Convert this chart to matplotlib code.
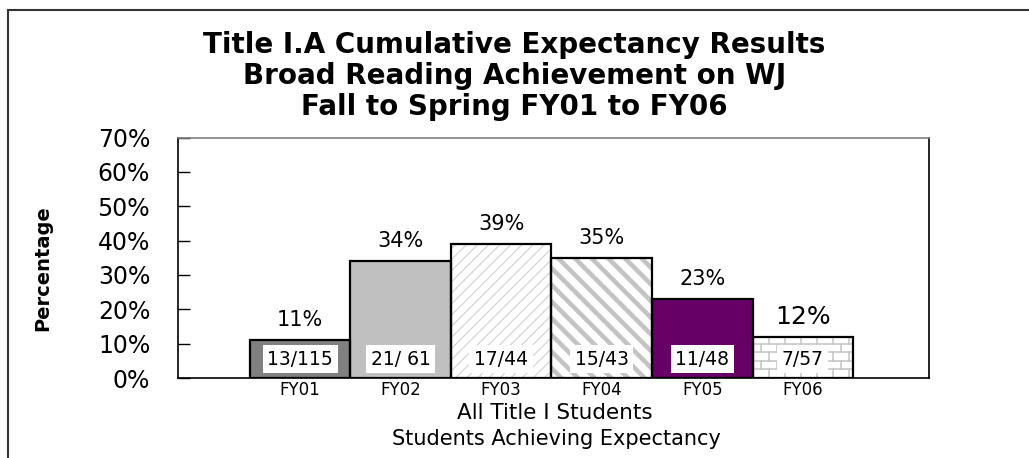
import matplotlib
matplotlib.use("Agg")
import matplotlib.pyplot as plt
from matplotlib.patches import Rectangle
import numpy as np

plt.rcParams['font.family'] = ['DejaVu Sans']

# ---- data ----
categories = ["FY01", "FY02", "FY03", "FY04", "FY05", "FY06"]
pct_values = [0.11, 0.34, 0.39, 0.35, 0.23, 0.12]
pct_labels = ["11%", "34%", "39%", "35%", "23%", "12%"]
count_labels = ["13/115", "21/ 61", "17/44", "15/43", "11/48", "7/57"]
yticks = [0.0, 0.1, 0.2, 0.3, 0.4, 0.5, 0.6, 0.7]
ytick_labels = ["0%", "10%", "20%", "30%", "40%", "50%", "60%", "70%"]
title_lines = ["Title I.A Cumulative Expectancy Results",
               "Broad Reading Achievement on WJ",
               "Fall to Spring FY01 to FY06"]

W, H = 1029, 458
fig = plt.figure(figsize=(W / 100, H / 100), dpi=100)
ax_l, ax_r, ax_t, ax_b = 178, 929, 137.5, 378
ax = fig.add_axes([ax_l / W, 1 - ax_b / H, (ax_r - ax_l) / W, (ax_b - ax_t) / H])
axw, axh = ax_r - ax_l, ax_b - ax_t

x = np.arange(len(categories))
bw = 1.0

styles = [
    dict(fc="#808080", hatch=None),
    dict(fc="#c0c0c0", hatch=None),
    dict(fc="white", hatch="///", hc="#d0d0d0", hlw=0.8),
    dict(fc="white", hatch="\\\\", hc="#c4c4c4", hlw=3.3),
    dict(fc="#660066", hatch=None),
    dict(fc="white", hatch="brick", hc="#c4c4c4"),
]

for xi, v, st in zip(x, pct_values, styles):
    if st["hatch"] in ("///", "\\\\"):
        with plt.rc_context({"hatch.linewidth": st["hlw"], "hatch.color": st["hc"]}):
            ax.bar(xi, v, width=bw, color=st["fc"], edgecolor=st["hc"],
                   hatch=st["hatch"], linewidth=0, zorder=2)
    else:
        ax.bar(xi, v, width=bw, color=st["fc"], linewidth=0, zorder=2)
    b = ax.bar(xi, v, width=bw, facecolor="none", edgecolor="black",
               linewidth=1.6, zorder=4)
    if st["hatch"] == "brick":
        rect = b[0]
        x0 = rect.get_x()
        step = 0.025
        brick_w = 0.16
        rows = np.arange(0, v + step, step)
        for i, ry in enumerate(rows):
            ln, = ax.plot([x0, x0 + bw], [ry, ry], color=st["hc"], lw=1.1, zorder=3)
            ln.set_clip_path(rect)
            off = 0 if i % 2 == 0 else brick_w / 2
            for bx in np.arange(x0 + off, x0 + bw, brick_w):
                vl, = ax.plot([bx, bx], [ry, ry + step], color=st["hc"], lw=1.1, zorder=3)
                vl.set_clip_path(rect)

# value labels above bars
for xi, v, lab in zip(x, pct_values, pct_labels):
    fs = 18 if lab == "12%" else 15
    ax.annotate(lab, (xi, v), xytext=(0, 14.5), textcoords="offset points",
                ha="center", va="center", fontsize=fs, zorder=6)

# count labels inside bars
for xi, lab in zip(x, count_labels):
    ax.annotate(lab, (xi, 0), xytext=(0, 13.5), textcoords="offset points",
                ha="center", va="center", fontsize=13.5, zorder=6,
                bbox=dict(boxstyle="square,pad=0.25", fc="white", ec="none"))

ax.set_xlim(-1.216, 6.256)
ax.set_ylim(0, 0.70)
ax.set_yticks(yticks)
ax.set_yticklabels(ytick_labels, fontsize=17)
ax.tick_params(axis="y", direction="in", length=8.6, width=1, pad=20, colors="black")
ax.set_xticks(x)
ax.set_xticklabels(categories, fontsize=12)
ax.tick_params(axis="x", length=0, pad=2.5)
for s in ["left", "right", "bottom"]:
    ax.spines[s].set_color("black")
    ax.spines[s].set_linewidth(1.2)
ax.spines["top"].set_color("#808080")
ax.spines["top"].set_linewidth(1.2)

ax.set_xlabel("All Title I Students", fontsize=15.5, va="center")
ax.xaxis.set_label_coords((555 - ax_l) / axw, -(413 - ax_b) / axh)
ax.set_ylabel("Percentage", fontsize=14, fontweight="bold", va="center")
ax.yaxis.set_label_coords((43 - ax_l) / axw, (ax_b - 268) / axh)

fig.text(556 / W, 1 - 439 / H, "Students Achieving Expectancy",
         ha="center", va="center", fontsize=15)

for i, line in enumerate(title_lines):
    fig.text(514.5 / W, 1 - (45 + 31 * i) / H, line, ha="center", va="center",
             fontsize=20, fontweight="bold")

# outer frame
fig.patches.append(Rectangle((8 / W, -0.2), 1.5, 1.2 - 10 / H, transform=fig.transFigure,
                             fill=False, edgecolor="#333333", linewidth=1.5))

fig.savefig("out.png", dpi=100)
